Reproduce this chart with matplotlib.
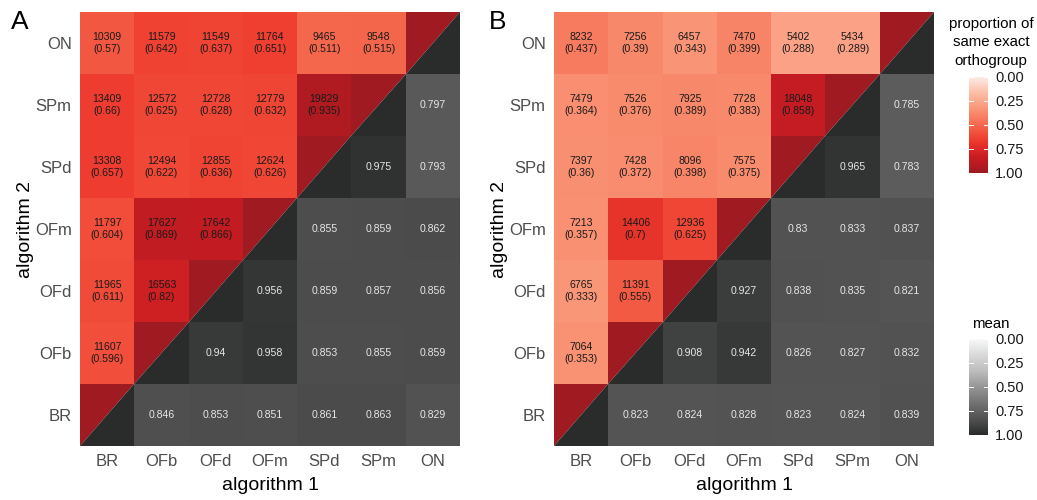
import numpy as np
import matplotlib
matplotlib.use("Agg")
import matplotlib.pyplot as plt
from matplotlib.colors import LinearSegmentedColormap, Normalize
from matplotlib.patches import Polygon

plt.rcParams['font.family'] = ['Liberation Sans', 'DejaVu Sans']

algorithms = ["BR", "OFb", "OFd", "OFm", "SPd", "SPm", "ON"]

# Panel A: upper-left (red) cells, per row (algorithm 2), columns from BR onward
a_counts = {
    "OFb": [11607],
    "OFd": [11965, 16563],
    "OFm": [11797, 17627, 17642],
    "SPd": [13308, 12494, 12855, 12624],
    "SPm": [13409, 12572, 12728, 12779, 19829],
    "ON":  [10309, 11579, 11549, 11764, 9465, 9548],
}
a_props = {
    "OFb": [0.596],
    "OFd": [0.611, 0.82],
    "OFm": [0.604, 0.869, 0.866],
    "SPd": [0.657, 0.622, 0.636, 0.626],
    "SPm": [0.66, 0.625, 0.628, 0.632, 0.935],
    "ON":  [0.57, 0.642, 0.637, 0.651, 0.511, 0.515],
}
# Panel A: lower-right (grey) cells, per row, columns right of diagonal
a_means = {
    "BR":  [0.846, 0.853, 0.851, 0.861, 0.863, 0.829],
    "OFb": [0.94, 0.958, 0.853, 0.855, 0.859],
    "OFd": [0.956, 0.859, 0.857, 0.856],
    "OFm": [0.855, 0.859, 0.862],
    "SPd": [0.975, 0.793],
    "SPm": [0.797],
}

b_counts = {
    "OFb": [7064],
    "OFd": [6765, 11391],
    "OFm": [7213, 14406, 12936],
    "SPd": [7397, 7428, 8096, 7575],
    "SPm": [7479, 7526, 7925, 7728, 18048],
    "ON":  [8232, 7256, 6457, 7470, 5402, 5434],
}
b_props = {
    "OFb": [0.353],
    "OFd": [0.333, 0.555],
    "OFm": [0.357, 0.7, 0.625],
    "SPd": [0.36, 0.372, 0.398, 0.375],
    "SPm": [0.364, 0.376, 0.389, 0.383, 0.858],
    "ON":  [0.437, 0.39, 0.343, 0.399, 0.288, 0.289],
}
b_means = {
    "BR":  [0.823, 0.824, 0.828, 0.823, 0.824, 0.839],
    "OFb": [0.908, 0.942, 0.826, 0.827, 0.832],
    "OFd": [0.927, 0.838, 0.835, 0.821],
    "OFm": [0.83, 0.833, 0.837],
    "SPd": [0.965, 0.783],
    "SPm": [0.785],
}
diag_prop = [1.0, 1.0, 1.0, 1.0, 1.0, 1.0, 1.0]
diag_mean = [1.0, 1.0, 1.0, 1.0, 1.0, 1.0, 1.0]

legend_ticks = [0.0, 0.25, 0.5, 0.75, 1.0]

reds = LinearSegmentedColormap.from_list(
    "reds", ["#FDEEEA", "#FCC0A8", "#FA9678", "#F56A4E", "#EE3B2E", "#CB1C22", "#A01A21"])
greys = LinearSegmentedColormap.from_list(
    "greys", ["#F7F8F9", "#D9D9D9", "#BDBDBD", "#969696", "#737373", "#525252", "#2A2C2C"])
norm = Normalize(0, 1)

W, H = 1037, 500
fig = plt.figure(figsize=(W / 100, H / 100), dpi=100)


def fx(px):
    return px / W


def fy(py):
    return 1 - py / H


def draw_panel(left, counts, props, means, letter, letter_x):
    ax = fig.add_axes([fx(left), fy(446), fx(380), 434 / H])
    n = len(algorithms)
    red = np.full((n, n), np.nan)
    grey = np.full((n, n), np.nan)
    for r, name in enumerate(algorithms):
        if name in props:
            for c, v in enumerate(props[name]):
                red[r, c] = v
        if name in means:
            for k, v in enumerate(means[name]):
                grey[r, r + 1 + k] = v
    edges = np.arange(n + 1) - 0.5
    ax.pcolormesh(edges, edges, np.ma.masked_invalid(red), cmap=reds, norm=norm)
    ax.pcolormesh(edges, edges, np.ma.masked_invalid(grey), cmap=greys, norm=norm)
    for i in range(n):
        ax.add_patch(Polygon([(i - 0.5, i - 0.5), (i - 0.5, i + 0.5), (i + 0.5, i + 0.5)],
                             closed=True, facecolor=reds(norm(diag_prop[i])), edgecolor='none'))
        ax.add_patch(Polygon([(i - 0.5, i - 0.5), (i + 0.5, i - 0.5), (i + 0.5, i + 0.5)],
                             closed=True, facecolor=greys(norm(diag_mean[i])), edgecolor='none'))
    for r, name in enumerate(algorithms):
        if name in props:
            for c, (cnt, p) in enumerate(zip(counts[name], props[name])):
                ax.text(c, r, f"{cnt}\n({p:g})", ha='center', va='center',
                        fontsize=7.6, color='#1a1a1a', linespacing=1.3)
        if name in means:
            for k, v in enumerate(means[name]):
                ax.text(r + 1 + k, r, f"{v:g}", ha='center', va='center',
                        fontsize=7.6, color='#e6e6e6')
    ax.set_xlim(-0.5, n - 0.5)
    ax.set_ylim(-0.5, n - 0.5)
    ax.set_xticks(range(n))
    ax.set_yticks(range(n))
    ax.set_xticklabels(algorithms)
    ax.set_yticklabels(algorithms)
    ax.tick_params(length=0, labelsize=12, labelcolor='#4d4d4d')
    ax.tick_params(axis='x', pad=6)
    ax.tick_params(axis='y', pad=6)
    for s in ax.spines.values():
        s.set_visible(False)
    cx = left + 190
    fig.text(fx(cx), fy(486), "algorithm 1", ha='center', va='center', fontsize=14)
    fig.text(fx(left - 54), fy(229), "algorithm 2", ha='center', va='center',
             fontsize=14, rotation=90)
    fig.text(fx(letter_x), fy(22), letter, ha='center', va='center', fontsize=19)
    return ax


draw_panel(80, a_counts, a_props, a_means, "A", 20)
draw_panel(554, b_counts, b_props, b_means, "B", 498)


def draw_cbar(top, bottom, cmap, title_lines, title_top):
    cax = fig.add_axes([fx(969), fy(bottom), fx(19), (bottom - top) / H])
    grad = np.linspace(0, 1, 200).reshape(-1, 1)
    cax.imshow(grad, aspect='auto', cmap=cmap, norm=norm, extent=[0, 1, 1, 0])
    cax.set_xlim(0, 1)
    cax.set_ylim(1, 0)
    cax.set_xticks([])
    cax.set_yticks(legend_ticks)
    cax.set_yticklabels([f"{t:.2f}" for t in legend_ticks])
    cax.yaxis.tick_right()
    cax.tick_params(axis='y', length=0, labelsize=10.5, labelcolor='#1a1a1a', pad=5)
    for t in legend_ticks:
        cax.plot([0, 0.2], [t, t], color='white', lw=0.7)
        cax.plot([0.8, 1], [t, t], color='white', lw=0.7)
    for s in cax.spines.values():
        s.set_visible(False)
    for k, line in enumerate(title_lines):
        fig.text(fx(991), fy(title_top + 18.5 * k), line, ha='center', va='center', fontsize=10.8)


draw_cbar(77, 173, reds, ["proportion of", "same exact", "orthogroup"], 24)
draw_cbar(339, 435, greys, ["mean"], 324)

fig.savefig("out.png", dpi=100)
